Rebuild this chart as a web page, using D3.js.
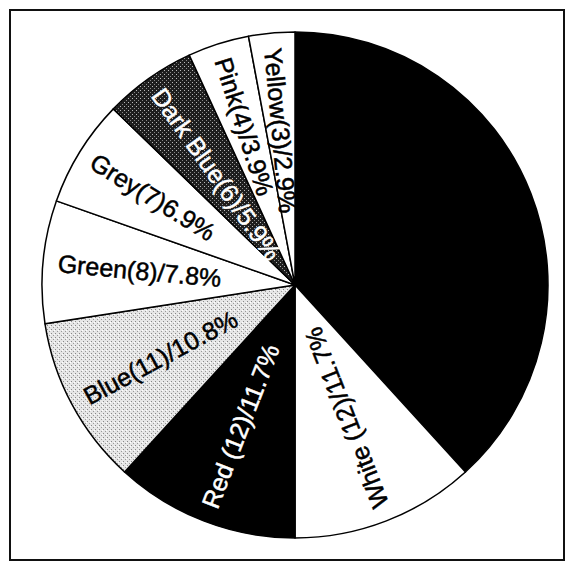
<!DOCTYPE html>
<html>
<head>
<meta charset="utf-8">
<script src="https://cdn.jsdelivr.net/npm/d3@7"></script>
<style>
  html, body { margin: 0; padding: 0; background: #fff; }
  svg { display: block; }
</style>
</head>
<body>
<svg id="chart" width="569" height="562"></svg>
<script>
// Colour counts, clockwise from twelve o'clock
const categories = ["Black", "White", "Red", "Blue", "Green", "Grey", "Dark Blue", "Pink", "Yellow"];
const counts     = [39, 12, 12, 11, 8, 7, 6, 4, 3];
const labels     = ["", "White (12)/11.7%", "Red (12)/11.7%", "Blue(11)/10.8%", "Green(8)/7.8%",
                    "Grey(7)6.9%", "Dark Blue(6)/5.9%", "Pink(4)/3.9%", "Yellow(3)/2.9%"];

const W = 569, H = 562;
const cx = 295, cy = 285, R = 253;

const svg = d3.select("#chart");
const defs = svg.append("defs");

// light stipple for Blue
const light = defs.append("pattern").attr("id", "stippleLight")
  .attr("patternUnits", "userSpaceOnUse").attr("width", 4).attr("height", 4);
light.append("rect").attr("width", 4).attr("height", 4).attr("fill", "#e6e6e6");
light.append("rect").attr("x", 0).attr("y", 0).attr("width", 1).attr("height", 1).attr("fill", "#888");
light.append("rect").attr("x", 2).attr("y", 2).attr("width", 1).attr("height", 1).attr("fill", "#999");
light.append("rect").attr("x", 3).attr("y", 1).attr("width", 1).attr("height", 1).attr("fill", "#fff");

// dark stipple for Dark Blue
const dark = defs.append("pattern").attr("id", "stippleDark")
  .attr("patternUnits", "userSpaceOnUse").attr("width", 4).attr("height", 4);
dark.append("rect").attr("width", 4).attr("height", 4).attr("fill", "#1e1e1e");
dark.append("rect").attr("x", 1).attr("y", 1).attr("width", 1).attr("height", 1).attr("fill", "#bbb");
dark.append("rect").attr("x", 3).attr("y", 3).attr("width", 1).attr("height", 1).attr("fill", "#888");

const fills = d3.scaleOrdinal()
  .domain(categories)
  .range(["#000", "#fff", "#000", "url(#stippleLight)", "#fff", "#fff", "url(#stippleDark)", "#fff", "#fff"]);
const textFill = d3.scaleOrdinal()
  .domain(categories)
  .range(["#000", "#000", "#fff", "#000", "#000", "#000", "#fff", "#000", "#000"]);

// outer frame
svg.append("rect")
  .attr("x", 10).attr("y", 10).attr("width", 554).attr("height", 550)
  .attr("fill", "none").attr("stroke", "#111").attr("stroke-width", 2);

const data = categories.map((c, i) => ({ name: c, value: counts[i], label: labels[i] }));

const pie = d3.pie().value(d => d.value).sort(null);
const arc = d3.arc().innerRadius(0).outerRadius(R);
const arcs = pie(data);

const g = svg.append("g").attr("transform", `translate(${cx},${cy})`);

g.selectAll("path.slice")
  .data(arcs)
  .join("path")
  .attr("class", "slice")
  .attr("d", arc)
  .attr("fill", d => fills(d.data.name))
  .attr("stroke", "#000")
  .attr("stroke-width", 1.5)
  .attr("stroke-linejoin", "round");

// radial labels: read from the rim toward the centre
const startR = R - 15;
g.selectAll("text.lab")
  .data(arcs.filter(d => d.data.label))
  .join("text")
  .attr("class", "lab")
  .attr("transform", d => {
    const a = (d.startAngle + d.endAngle) / 2;
    const x = startR * Math.sin(a), y = -startR * Math.cos(a);
    // inward reading direction
    const deg = Math.atan2(Math.cos(a), -Math.sin(a)) * 180 / Math.PI;
    return `translate(${x},${y}) rotate(${deg})`;
  })
  .attr("text-anchor", "start")
  .attr("dominant-baseline", "central")
  .attr("font-family", "'Liberation Sans', Arial, Helvetica, sans-serif")
  .attr("font-size", 25)
  .attr("fill", d => textFill(d.data.name))
  .attr("stroke", d => textFill(d.data.name))
  .attr("stroke-width", 0.5)
  .text(d => d.data.label);
</script>
</body>
</html>
